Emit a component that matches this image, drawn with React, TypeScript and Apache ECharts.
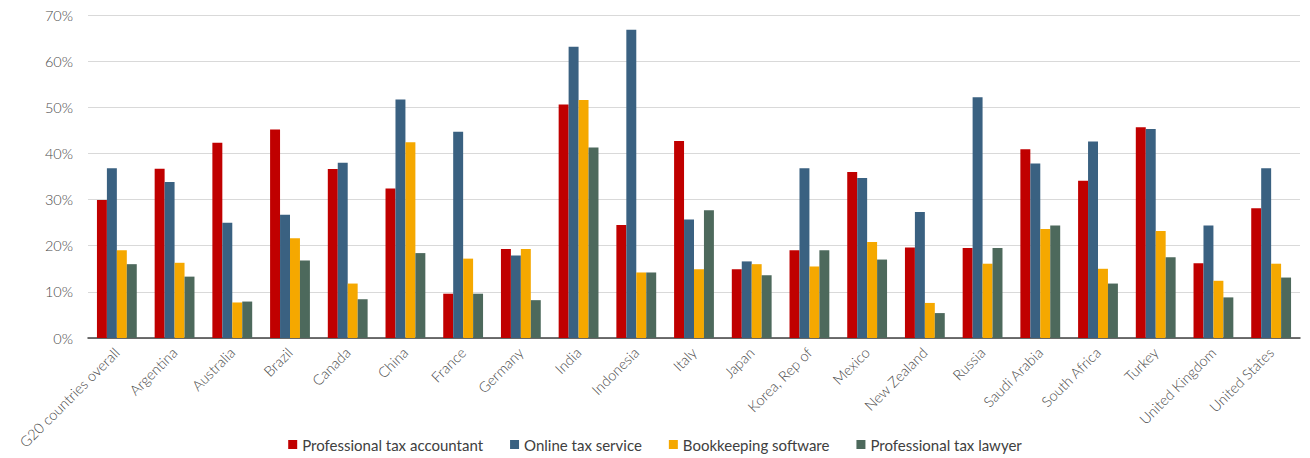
import React, { useEffect, useRef } from "react";
import * as echarts from "echarts";

const categories = [
  "G20 countries overall", "Argentina", "Australia", "Brazil", "Canada", "China", "France",
  "Germany", "India", "Indonesia", "Italy", "Japan", "Korea, Rep of", "Mexico", "New Zealand",
  "Russia", "Saudi Arabia", "South Africa", "Turkey", "United Kingdom", "United States",
];

const accountant = [29.9, 36.7, 42.3, 45.2, 36.6, 32.4, 9.6, 19.3, 50.6, 24.5, 42.7, 14.9, 19.0, 36.0, 19.6, 19.5, 40.9, 34.1, 45.7, 16.2, 28.1];
const onlineService = [36.8, 33.8, 25.0, 26.7, 38.0, 51.7, 44.7, 17.9, 63.1, 66.8, 25.7, 16.6, 36.8, 34.7, 27.3, 52.2, 37.8, 42.6, 45.3, 24.4, 36.8];
const bookkeeping = [19.0, 16.3, 7.7, 21.6, 11.8, 42.4, 17.2, 19.3, 51.6, 14.2, 14.9, 16.0, 15.5, 20.8, 7.6, 16.1, 23.6, 15.0, 23.2, 12.4, 16.1];
const lawyer = [16.0, 13.3, 7.9, 16.8, 8.4, 18.4, 9.6, 8.2, 41.3, 14.2, 27.7, 13.6, 19.0, 17.0, 5.4, 19.5, 24.4, 11.8, 17.5, 8.8, 13.1];

const seriesNames = ["Professional tax accountant", "Online tax service", "Bookkeeping software", "Professional tax lawyer"];
const seriesColors = ["#C00000", "#3A6181", "#F5A800", "#4D695C"];
const seriesData = [accountant, onlineService, bookkeeping, lawyer];

export default function App() {
  const ref = useRef<HTMLDivElement>(null);
  useEffect(() => {
    if (!ref.current) return;
    const chart = echarts.init(ref.current, undefined, { renderer: "svg" });
    const font = "Lato, 'Open Sans', sans-serif";
    chart.setOption({
      animation: false,
      textStyle: { fontFamily: font },
      grid: { left: 88, right: 10, top: 15, bottom: 120, containLabel: false },
      legend: {
        bottom: 1,
        left: "center",
        icon: "rect",
        itemWidth: 9,
        itemHeight: 9,
        itemGap: 27,
        textStyle: { fontSize: 15, color: "#404040", fontFamily: font },
        data: seriesNames,
      },
      xAxis: {
        type: "category",
        data: categories,
        axisLine: { lineStyle: { color: "#404040", width: 1.5 } },
        axisTick: { show: false },
        axisLabel: { rotate: 45, fontSize: 14.5, color: "#4A4A4A", margin: 12, interval: 0, fontFamily: font, fontWeight: 300 },
      },
      yAxis: {
        type: "value",
        min: 0,
        max: 70,
        interval: 10,
        axisLine: { show: false },
        axisTick: { show: false },
        axisLabel: { formatter: "{value}%", fontSize: 14.5, color: "#4A4A4A", margin: 15, fontFamily: font, fontWeight: 300 },
        splitLine: { lineStyle: { color: "#D9D9D9", width: 1 } },
      },
      series: seriesNames.map((name, i) => ({
        name,
        type: "bar",
        data: seriesData[i],
        itemStyle: { color: seriesColors[i] },
        barGap: "0%",
        barCategoryGap: "31%",
      })),
    });
    return () => chart.dispose();
  }, []);
  return <div ref={ref} style={{ position: "absolute", left: 0, top: 0, width: 1310, height: 458, background: "#fff" }} />;
}
